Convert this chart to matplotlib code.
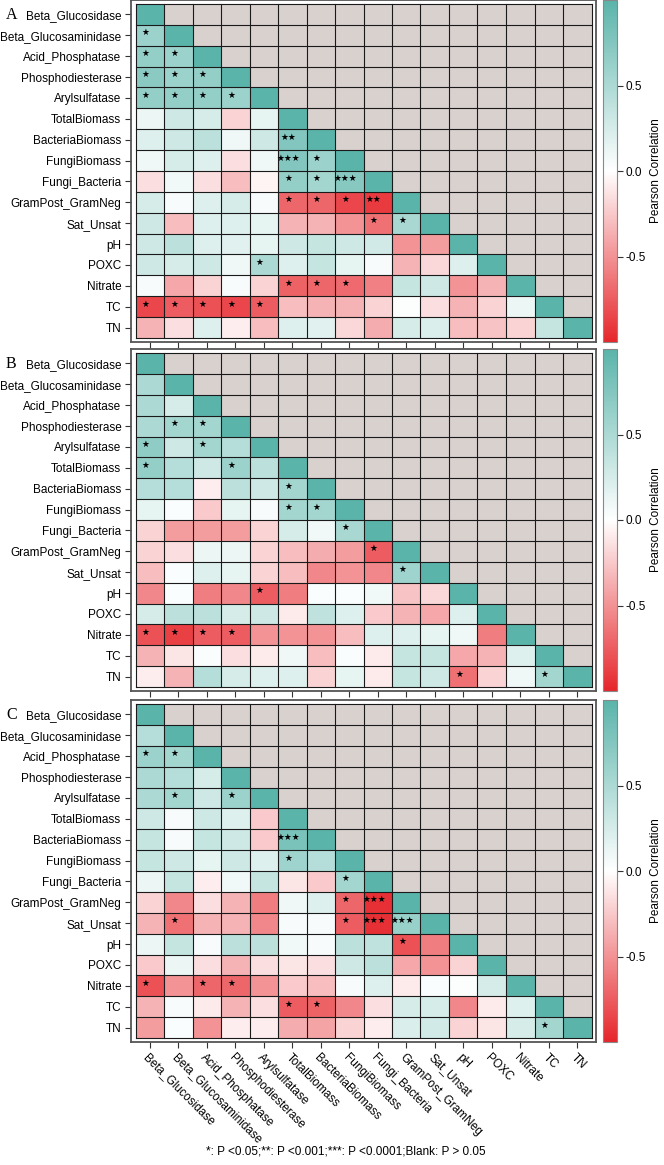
import numpy as np
import matplotlib.pyplot as plt
from matplotlib.colors import LinearSegmentedColormap, ListedColormap
from matplotlib.cm import ScalarMappable
from matplotlib.colors import Normalize

variables = ['Beta_Glucosidase', 'Beta_Glucosaminidase', 'Acid_Phosphatase', 'Phosphodiesterase',
             'Arylsulfatase', 'TotalBiomass', 'BacteriaBiomass', 'FungiBiomass', 'Fungi_Bacteria',
             'GramPost_GramNeg', 'Sat_Unsat', 'pH', 'POXC', 'Nitrate', 'TC', 'TN']

# lower triangles (row i holds correlations with columns 0..i-1)
corr_A = [
    [0.60],
    [0.65, 0.60],
    [0.70, 0.60, 0.65],
    [0.65, 0.65, 0.65, 0.60],
    [0.12, 0.30, 0.25, -0.20, 0.15],
    [0.20, 0.30, 0.40, 0.10, 0.30, 0.75],
    [0.10, 0.25, 0.20, -0.15, 0.10, 0.75, 0.60],
    [-0.15, 0.08, -0.15, -0.30, -0.05, 0.65, 0.55, 0.72],
    [0.25, 0.05, 0.20, 0.25, 0.05, -0.70, -0.70, -0.85, -0.90],
    [0.30, -0.30, 0.20, 0.20, 0.15, -0.35, -0.35, -0.50, -0.65, 0.52],
    [0.30, 0.40, 0.20, 0.18, 0.15, 0.30, 0.35, 0.30, 0.28, -0.50, -0.45],
    [0.30, 0.25, 0.30, 0.10, 0.50, 0.20, 0.35, 0.15, 0.05, -0.35, -0.18, 0.20],
    [0.05, -0.40, -0.20, 0.05, -0.20, -0.72, -0.70, -0.68, -0.58, 0.35, 0.30, -0.50, -0.35],
    [-0.85, -0.75, -0.80, -0.85, -0.75, -0.30, -0.35, -0.35, -0.20, 0.02, -0.15, -0.35, -0.20, 0.12],
    [-0.35, -0.15, 0.20, -0.08, -0.30, 0.20, 0.18, -0.18, -0.38, 0.25, 0.22, -0.30, -0.28, -0.20, 0.35],
]
corr_B = [
    [0.50],
    [0.50, 0.25],
    [0.50, 0.55, 0.55],
    [0.68, 0.30, 0.55, 0.45],
    [0.65, 0.45, 0.30, 0.60, 0.40],
    [0.45, 0.45, -0.08, 0.40, 0.30, 0.55],
    [0.15, 0.03, -0.25, 0.15, 0.05, 0.55, 0.55],
    [-0.20, -0.45, -0.45, -0.45, -0.20, 0.25, 0.08, 0.52],
    [-0.20, -0.15, 0.12, 0.12, -0.20, -0.30, -0.38, -0.45, -0.75],
    [-0.30, 0.03, 0.20, 0.15, -0.20, -0.30, -0.55, -0.50, -0.55, 0.58],
    [-0.55, 0.03, -0.60, -0.55, -0.75, -0.60, 0.03, 0.03, 0.08, -0.28, -0.18],
    [0.25, 0.40, 0.40, 0.25, 0.30, -0.10, 0.38, 0.20, -0.25, -0.35, -0.40, 0.20],
    [-0.80, -0.88, -0.75, -0.75, -0.50, -0.50, -0.50, -0.30, 0.20, 0.20, 0.15, 0.10, -0.60],
    [-0.35, -0.12, 0.03, -0.15, -0.10, 0.10, -0.30, 0.03, -0.10, 0.35, 0.35, -0.40, -0.35, 0.20],
    [-0.08, -0.35, 0.45, 0.25, 0.20, 0.20, -0.20, 0.15, -0.10, 0.35, 0.30, -0.65, -0.20, 0.10, 0.55],
]
corr_C = [
    [0.45],
    [0.60, 0.55],
    [0.50, 0.45, 0.25],
    [0.50, 0.55, 0.30, 0.60],
    [0.30, 0.05, 0.30, 0.20, -0.25],
    [0.35, 0.05, 0.35, 0.30, -0.25, 0.80],
    [0.35, 0.30, 0.15, 0.30, 0.20, 0.58, 0.45],
    [0.12, 0.35, -0.08, 0.08, 0.35, -0.12, -0.25, 0.55],
    [-0.20, -0.55, -0.15, -0.35, -0.60, 0.10, 0.20, -0.70, -0.95],
    [-0.35, -0.65, -0.35, -0.35, -0.55, 0.05, 0.05, -0.75, -0.95, 0.62],
    [0.12, 0.35, 0.05, 0.40, 0.40, 0.08, 0.05, 0.40, 0.38, -0.80, -0.60],
    [-0.25, 0.12, -0.15, -0.35, -0.15, -0.12, -0.15, 0.30, 0.40, -0.40, -0.50, -0.20],
    [-0.80, -0.50, -0.70, -0.70, -0.50, -0.25, -0.30, 0.05, 0.20, -0.10, 0.03, 0.02, 0.25],
    [-0.35, 0.05, -0.10, -0.35, -0.15, -0.75, -0.72, -0.55, -0.15, 0.25, 0.25, -0.55, -0.10, 0.20],
    [-0.45, 0.03, -0.50, -0.08, -0.08, -0.38, -0.42, -0.20, -0.08, 0.22, 0.28, -0.20, -0.12, 0.25, 0.55],
]

# significance marks: (row, col, number of stars)
sig_A = [(1, 0, 1), (2, 0, 1), (2, 1, 1), (3, 0, 1), (3, 1, 1), (3, 2, 1),
         (4, 0, 1), (4, 1, 1), (4, 2, 1), (4, 3, 1), (6, 5, 2), (7, 5, 3), (7, 6, 1),
         (8, 5, 1), (8, 6, 1), (8, 7, 3), (9, 5, 1), (9, 6, 1), (9, 7, 1), (9, 8, 2),
         (10, 8, 1), (10, 9, 1), (12, 4, 1), (13, 5, 1), (13, 6, 1), (13, 7, 1),
         (14, 0, 1), (14, 1, 1), (14, 2, 1), (14, 3, 1), (14, 4, 1)]
sig_B = [(3, 1, 1), (3, 2, 1), (4, 0, 1), (4, 2, 1), (5, 0, 1), (5, 3, 1), (6, 5, 1),
         (7, 5, 1), (7, 6, 1), (8, 7, 1), (9, 8, 1), (10, 9, 1), (11, 4, 1),
         (13, 0, 1), (13, 1, 1), (13, 2, 1), (13, 3, 1), (15, 11, 1), (15, 14, 1)]
sig_C = [(2, 0, 1), (2, 1, 1), (4, 1, 1), (4, 3, 1), (6, 5, 3), (7, 5, 1), (8, 7, 1),
         (9, 7, 1), (9, 8, 3), (10, 1, 1), (10, 7, 1), (10, 8, 3), (10, 9, 3), (11, 9, 1),
         (13, 0, 1), (13, 2, 1), (13, 3, 1), (14, 5, 1), (14, 6, 1), (15, 14, 1)]

panels = [('A', corr_A, sig_A), ('B', corr_B, sig_B), ('C', corr_C, sig_C)]

cmap = LinearSegmentedColormap.from_list('rw_teal', ['#e6262b', '#ffffff', '#5ab4aa'])
gray = ListedColormap(['#d8d1ce'])
n = len(variables)
W, H = 664, 1165
fig = plt.figure(figsize=(W / 100, H / 100), dpi=100)
plt.rcParams['font.family'] = ['Liberation Sans', 'DejaVu Sans']

tops = [0, 349, 700]
mx = 4.5 / 28.5
my = 4 / 20.875
for k, (letter, corr, sig) in enumerate(panels):
    top = tops[k]
    ax = fig.add_axes([131 / W, (H - top - 342) / H, 465 / W, 342 / H])
    mat = np.full((n, n), np.nan)
    for i in range(n):
        mat[i, i] = 1.0
        for j, v in enumerate(corr[i - 1] if i > 0 else []):
            mat[i, j] = v
    bg = np.zeros((n, n))
    ax.pcolormesh(np.arange(n + 1), np.arange(n + 1), bg, cmap=gray,
                  edgecolors='#1a1a1a', linewidth=0.7)
    ax.pcolormesh(np.arange(n + 1), np.arange(n + 1), np.ma.masked_invalid(mat), cmap=cmap,
                  vmin=-1, vmax=1, edgecolors='none')
    # redraw grid on top
    for g in range(n + 1):
        ax.plot([g, g], [0, n], color='#1a1a1a', lw=0.8)
        ax.plot([0, n], [g, g], color='#1a1a1a', lw=0.8)
    for r, c, s in sig:
        ax.text(c + 0.36, r + 0.38, '★' * s, ha='center', va='center', fontsize=6.3,
                family='DejaVu Sans', color='black')
    ax.set_xlim(-mx, n + mx)
    ax.set_ylim(n + my, -my)
    ax.set_yticks(np.arange(n) + 0.5)
    ax.set_yticklabels(variables, fontsize=8.5)
    ax.set_xticks(np.arange(n) + 0.5)
    if k == 2:
        ax.set_xticklabels(variables, fontsize=8.5, rotation=-45, ha='left', va='top',
                           rotation_mode='anchor')
    else:
        ax.set_xticklabels([])
    ax.tick_params(length=4, width=0.8, color='#333333', pad=3)
    for sp in ax.spines.values():
        sp.set_color('#555555')
        sp.set_linewidth(1.3)
    fig.text(6 / W, 1 - (top + 15) / H, letter, family='Liberation Serif', fontsize=11.5,
             ha='left', va='center')

    cax = fig.add_axes([603 / W, (H - top - 342) / H, 14 / W, 342 / H])
    cb = fig.colorbar(ScalarMappable(norm=Normalize(-1, 1), cmap=cmap), cax=cax)
    cb.set_ticks([-0.5, 0, 0.5])
    cb.set_ticklabels(['-0.5', '0.0', '0.5'])
    cb.ax.tick_params(labelsize=8.5, length=4, width=0.8, color='#333333', pad=2)
    cb.outline.set_edgecolor('#888888')
    cb.set_label('Pearson Correlation', fontsize=8.5, labelpad=3)

fig.text(346 / W, 7 / H, '*: P <0.05;**: P <0.001;***: P <0.0001;Blank: P > 0.05',
         ha='center', va='bottom', fontsize=8.5)

fig.savefig('out.png', dpi=100)
